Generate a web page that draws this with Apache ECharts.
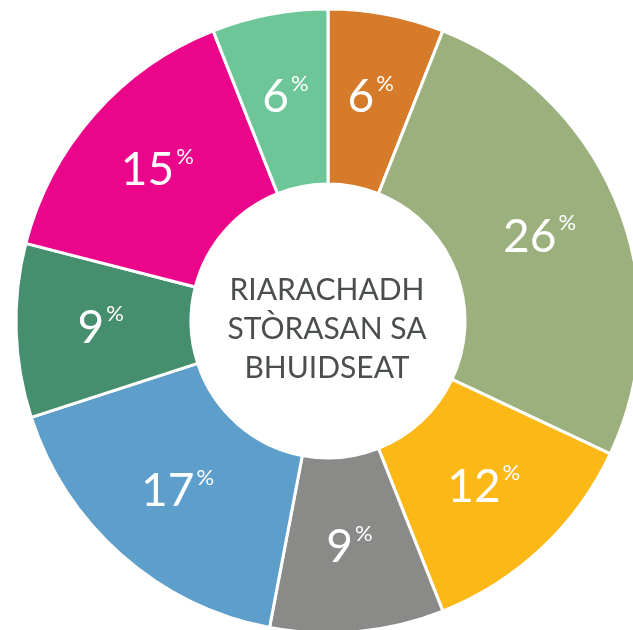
<!DOCTYPE html>
<html lang="gd">
  <head>
    <meta charset="UTF-8" />
    <title>Riarachadh Stòrasan sa Bhuidseat</title>
    <script src="https://cdn.jsdelivr.net/npm/echarts@6.0.0/dist/echarts.min.js"></script>
    <style>
      html, body { margin: 0; padding: 0; background: #fff; }
    </style>
  </head>
  <body>
    <div id="budget" style="width: 633px; height: 630px"></div>

    <script type="text/javascript">
      // slices clockwise from 12 o'clock
      const shares = [6, 26, 12, 9, 17, 9, 15, 6];
      const colours = ["#d67b2a", "#9bb07d", "#fbb817", "#8a8a89", "#5e9ecb", "#458e6e", "#eb058b", "#6dc698"];
      const centreLines = ["RIARACHADH", "STÒRASAN SA", "BHUIDSEAT"];

      const chart = echarts.init(document.getElementById("budget"));

      const option = {
        animation: false,
        graphic: [
          {
            type: "text",
            x: 327,
            y: 329,
            style: {
              text: centreLines.join("\n"),
              align: "center",
              verticalAlign: "middle",
              font: "30px Lato",
              lineHeight: 39,
              fill: "#4a4f4d",
            },
          },
        ],
        series: [
          {
            type: "pie",
            center: [328, 321],
            radius: [137, 312],
            startAngle: 90,
            clockwise: true,
            avoidLabelOverlap: false,
            itemStyle: { borderColor: "#fff", borderWidth: 3 },
            label: {
              show: true,
              position: "inside",
              formatter: (p) => "{n|" + p.value + "}{p|%}",
              rich: {
                n: { fontFamily: "Lato", fontSize: 46, color: "#fff", lineHeight: 50 },
                p: { fontFamily: "Lato", fontSize: 22, color: "#fff", verticalAlign: "top", lineHeight: 50, padding: [0, 0, 20, 2] },
              },
            },
            labelLine: { show: false },
            emphasis: { disabled: true },
            data: shares.map((v, i) => ({ value: v, itemStyle: { color: colours[i] } })),
          },
        ],
      };

      chart.setOption(option);
    </script>
  </body>
</html>
